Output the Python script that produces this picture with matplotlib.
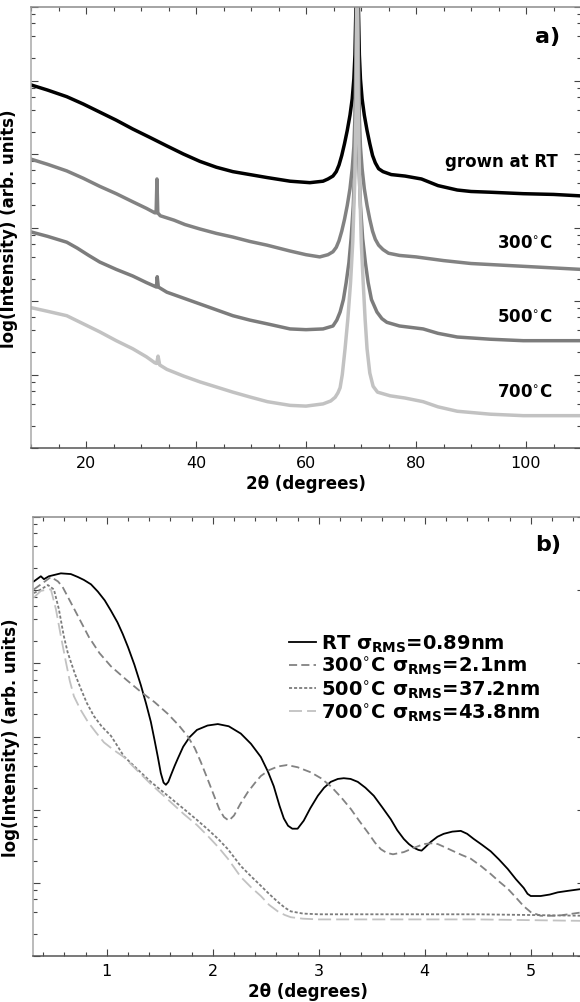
import matplotlib

matplotlib.use("Agg")
import matplotlib.pyplot as plt
from matplotlib.ticker import LogLocator, MultipleLocator, NullFormatter
import numpy as np

plt.rcParams["font.family"] = ["DejaVu Sans"]
plt.rcParams["mathtext.fontset"] = "dejavusans"

# ---- panel a: XRD scans, 2theta in degrees, log10 intensity (arb.) ----
xrd_rt_tt = [10, 13, 16.5, 19.5, 22.5, 25.5, 28.5, 31.5, 34.7, 37.7, 40.7, 43.7, 46.7,
             49.8, 52.9, 57.1, 60.7, 63.1, 64.0, 64.9, 65.5, 66.0, 66.5, 67.0, 67.5,
             68.0, 68.4, 68.7, 68.9, 69.05, 69.2, 69.3, 69.4, 69.55, 69.7, 69.9, 70.2,
             70.6, 71.1, 71.6, 72.1, 72.6, 73.2, 74.0, 75.5, 78.0, 81.0, 84.0, 87.5,
             90.0, 93.5, 99.5, 105, 110]
xrd_rt_logI = [4.94, 4.87, 4.78, 4.68, 4.57, 4.46, 4.34, 4.23, 4.11, 4.00, 3.90, 3.82, 3.76,
               3.72, 3.68, 3.63, 3.61, 3.63, 3.66, 3.70, 3.76, 3.85, 3.98, 4.14, 4.32,
               4.53, 4.75, 5.02, 5.35, 5.90, 6.60, 7.00, 6.60, 5.90, 5.35, 5.02, 4.75,
               4.53, 4.32, 4.14, 3.98, 3.88, 3.80, 3.76, 3.72, 3.70, 3.66, 3.57, 3.51,
               3.49, 3.48, 3.46, 3.45, 3.43]

xrd_300_tt = [10, 13, 16.5, 19.5, 22.5, 25.5, 28.5, 31.0, 32.5, 32.75, 32.9, 33.05, 33.5,
              36.0, 38.0, 40.7, 43.7, 46.7, 49.8, 52.9, 55.0, 57.1, 60.0, 62.5, 64.0,
              64.9, 65.5, 66.0, 66.5, 67.0, 67.5, 68.0, 68.4, 68.7, 68.9, 69.05, 69.2,
              69.3, 69.4, 69.55, 69.7, 69.9, 70.2, 70.6, 71.1, 71.6, 72.1, 72.6, 73.2,
              74.0, 75.0, 77.0, 80, 85, 90, 95, 100, 105, 110]
xrd_300_logI = [3.93, 3.86, 3.77, 3.67, 3.56, 3.46, 3.35, 3.26, 3.20, 3.20, 3.66, 3.20, 3.16,
                3.10, 3.04, 2.98, 2.92, 2.87, 2.81, 2.76, 2.72, 2.68, 2.63, 2.60, 2.63,
                2.67, 2.73, 2.82, 2.95, 3.11, 3.30, 3.53, 3.80, 4.10, 4.50, 5.20, 6.20,
                6.80, 6.20, 5.20, 4.50, 4.10, 3.80, 3.53, 3.30, 3.11, 2.95, 2.84, 2.76,
                2.70, 2.65, 2.62, 2.60, 2.55, 2.51, 2.49, 2.47, 2.45, 2.43]

xrd_500_tt = [10, 13, 16.5, 18.4, 20.5, 22.5, 25.5, 28.5, 31.0, 32.5, 32.8, 32.95, 33.15,
              34.7, 37.7, 40.7, 43.7, 46.7, 49.8, 52.9, 57.1, 60.0, 63.1, 64.9, 65.6,
              66.2, 66.8, 67.3, 67.8, 68.2, 68.6, 68.9, 69.1, 69.25, 69.4, 69.6, 69.9,
              70.3, 70.8, 71.3, 71.9, 72.9, 73.8, 74.7, 77.0, 81.3, 84.0, 87.5, 93.5,
              99.5, 110]
xrd_500_logI = [2.94, 2.88, 2.80, 2.72, 2.62, 2.53, 2.43, 2.34, 2.25, 2.20, 2.19, 2.33, 2.19,
                2.12, 2.04, 1.96, 1.88, 1.80, 1.74, 1.69, 1.62, 1.61, 1.62, 1.66, 1.74,
                1.85, 2.02, 2.25, 2.52, 2.85, 3.30, 3.90, 4.80, 6.60, 4.80, 3.90, 3.30,
                2.85, 2.52, 2.25, 2.02, 1.85, 1.76, 1.71, 1.66, 1.62, 1.56, 1.51, 1.48,
                1.46, 1.46]

xrd_700_tt = [10, 13, 16.5, 19.5, 22.5, 25.5, 28.5, 31.0, 32.5, 32.85, 33.1, 33.4, 34.7,
              37.7, 40.7, 43.7, 46.7, 50.0, 53.0, 57.1, 60.0, 63.1, 64.5, 65.3, 65.8,
              66.2, 66.6, 67.1, 67.6, 68.1, 68.5, 68.85, 69.1, 69.3, 69.5, 69.75, 70.05,
              70.4, 70.75, 71.1, 71.6, 72.2, 73.0, 75.3, 78.0, 81.3, 84.0, 87.5, 93.5,
              99.5, 110]
xrd_700_logI = [1.91, 1.86, 1.80, 1.69, 1.58, 1.46, 1.35, 1.24, 1.16, 1.15, 1.25, 1.13, 1.07,
                0.98, 0.90, 0.83, 0.76, 0.69, 0.63, 0.58, 0.57, 0.60, 0.64, 0.69, 0.75,
                0.82, 1.00, 1.35, 1.75, 2.25, 2.80, 3.60, 4.60, 6.50, 4.60, 3.60, 2.80,
                2.25, 1.75, 1.35, 1.02, 0.84, 0.76, 0.71, 0.68, 0.63, 0.56, 0.50, 0.46,
                0.44, 0.44]

xrd_labels = ["grown at RT", "300$^{\\circ}$C", "500$^{\\circ}$C", "700$^{\\circ}$C"]

# ---- panel b: XRR scans ----
xrr_rt_tt = [0.311, 0.377, 0.406, 0.453, 0.566, 0.66, 0.726, 0.783, 0.85, 0.915, 0.98,
             1.038, 1.10, 1.15, 1.20, 1.26, 1.321, 1.37, 1.415, 1.45, 1.481, 1.509, 1.535,
             1.557, 1.58, 1.604, 1.64, 1.670, 1.72, 1.78, 1.85, 1.95, 2.047, 2.15, 2.264,
             2.36, 2.453, 2.52, 2.575, 2.63, 2.67, 2.71, 2.75, 2.80, 2.858, 2.92, 2.991,
             3.05, 3.113, 3.18, 3.236, 3.30, 3.368, 3.44, 3.519, 3.60, 3.679, 3.74, 3.802,
             3.85, 3.896, 3.94, 3.97, 4.00, 4.057, 4.12, 4.179, 4.26, 4.34, 4.40, 4.462,
             4.54, 4.623, 4.70, 4.783, 4.86, 4.934, 4.97, 5.0, 5.094, 5.18, 5.255, 5.349,
             5.5]
xrr_rt_logI = [5.12, 5.19, 5.15, 5.19, 5.23, 5.22, 5.18, 5.14, 5.08, 4.98, 4.86,
               4.72, 4.56, 4.40, 4.22, 3.98, 3.70, 3.45, 3.20, 2.95, 2.72, 2.50, 2.37,
               2.34, 2.38, 2.47, 2.60, 2.70, 2.86, 2.99, 3.09, 3.15, 3.17, 3.14, 3.04,
               2.90, 2.72, 2.52, 2.32, 2.05, 1.88, 1.78, 1.74, 1.74, 1.85, 2.02, 2.19,
               2.30, 2.38, 2.42, 2.43, 2.42, 2.38, 2.30, 2.19, 2.03, 1.87, 1.72, 1.60,
               1.53, 1.48, 1.45, 1.44, 1.48, 1.56, 1.63, 1.67, 1.70, 1.71, 1.67, 1.60,
               1.52, 1.43, 1.32, 1.19, 1.05, 0.93, 0.85, 0.82, 0.82, 0.84, 0.87, 0.89,
               0.92]

xrr_300_tt = [0.311, 0.349, 0.472, 0.538, 0.58, 0.70, 0.83, 0.93, 1.038, 1.18, 1.321,
              1.45, 1.575, 1.68, 1.764, 1.83, 1.887, 1.95, 2.009, 2.06, 2.104, 2.151, 2.20,
              2.26, 2.330, 2.40, 2.453, 2.53, 2.613, 2.70, 2.80, 2.925, 3.02, 3.113, 3.21,
              3.302, 3.38, 3.462, 3.53, 3.585, 3.64, 3.70, 3.802, 3.90, 3.991, 4.06, 4.123,
              4.20, 4.274, 4.35, 4.434, 4.53, 4.623, 4.70, 4.783, 4.86, 4.934, 5.0, 5.094,
              5.255, 5.5]
xrr_300_logI = [5.01, 5.05, 5.18, 5.12, 5.05, 4.72, 4.36, 4.14, 3.96, 3.78, 3.61,
                3.47, 3.31, 3.15, 3.00, 2.84, 2.65, 2.42, 2.20, 2.01, 1.90, 1.85, 1.92,
                2.08, 2.24, 2.37, 2.46, 2.54, 2.59, 2.61, 2.58, 2.51, 2.43, 2.32, 2.17,
                2.01, 1.85, 1.69, 1.55, 1.46, 1.41, 1.39, 1.42, 1.48, 1.53, 1.54, 1.53,
                1.48, 1.43, 1.38, 1.33, 1.23, 1.12, 1.02, 0.92, 0.80, 0.68, 0.60, 0.55,
                0.55, 0.60]

xrr_500_tt = [0.311, 0.377, 0.443, 0.500, 0.547, 0.594, 0.63, 0.660, 0.70, 0.755, 0.81,
              0.877, 0.95, 1.038, 1.10, 1.160, 1.29, 1.415, 1.575, 1.726, 1.85, 1.953,
              2.05, 2.142, 2.264, 2.36, 2.453, 2.53, 2.613, 2.68, 2.736, 2.85, 3.0, 3.5,
              4.0, 4.5, 5.0, 5.5]
xrr_500_logI = [4.96, 5.01, 5.07, 5.01, 4.74, 4.37, 4.15, 4.02, 3.85, 3.65, 3.46,
                3.28, 3.14, 3.01, 2.87, 2.73, 2.55, 2.38, 2.19, 2.01, 1.86, 1.73,
                1.60, 1.46, 1.23, 1.09, 0.96, 0.85, 0.74, 0.66, 0.61, 0.58, 0.57, 0.57,
                0.57, 0.57, 0.56, 0.55]

xrr_700_tt = [0.311, 0.377, 0.443, 0.472, 0.519, 0.566, 0.613, 0.65, 0.689, 0.75, 0.821,
              0.90, 0.972, 1.06, 1.160, 1.29, 1.415, 1.575, 1.726, 1.85, 1.953, 2.05,
              2.142, 2.264, 2.36, 2.453, 2.53, 2.613, 2.68, 2.736, 2.85, 3.0, 3.5, 4.0,
              4.5, 5.0, 5.5]
xrr_700_logI = [4.90, 4.99, 5.01, 5.01, 4.74, 4.37, 4.02, 3.76, 3.55, 3.37, 3.20,
                3.05, 2.92, 2.82, 2.72, 2.53, 2.35, 2.14, 1.94, 1.79, 1.64, 1.49,
                1.33, 1.08, 0.94, 0.82, 0.70, 0.61, 0.56, 0.53, 0.51, 0.50, 0.50, 0.50,
                0.50, 0.49, 0.48]

xrr_labels = [
    "RT σ$_{\\mathbf{RMS}}$=0.89nm",
    "300$^{\\circ}$C σ$_{\\mathbf{RMS}}$=2.1nm",
    "500$^{\\circ}$C σ$_{\\mathbf{RMS}}$=37.2nm",
    "700$^{\\circ}$C σ$_{\\mathbf{RMS}}$=43.8nm",
]

colors = ["#000000", "#828282", "#7c7c7c", "#c2c2c2"]
dash_styles = ["-", (0, (4.5, 2.3)), (0, (1.7, 1.1)), (0, (7.2, 2.8))]


def style_axes(ax, xmajor, xminor):
    ax.set_yscale("log")
    ax.set_ylim(1, 1e6)
    ax.yaxis.set_major_locator(LogLocator(base=10, numticks=20))
    ax.yaxis.set_minor_locator(LogLocator(base=10, subs=(2, 4, 6, 8), numticks=20))
    ax.yaxis.set_major_formatter(NullFormatter())
    ax.yaxis.set_minor_formatter(NullFormatter())
    ax.xaxis.set_major_locator(MultipleLocator(xmajor))
    ax.xaxis.set_minor_locator(MultipleLocator(xminor))
    ax.tick_params(which="both", direction="in", top=True, right=True,
                   colors="#444444", width=0.8, labelcolor="black", labelsize=11.5)
    ax.tick_params(which="major", length=5, pad=5)
    ax.tick_params(which="minor", length=3)
    ax.spines["left"].set_color("#a8a8a8")
    ax.spines["right"].set_color("#a8a8a8")
    ax.spines["top"].set_color("#8c8c8c")
    ax.spines["bottom"].set_color("#555555")
    for sp in ax.spines.values():
        sp.set_linewidth(1.1)
    ax.set_xlabel("2θ (degrees)", fontsize=12, fontweight="bold", labelpad=3)
    ax.set_ylabel("log(Intensity) (arb. units)", fontsize=12, fontweight="bold", labelpad=4)


fig = plt.figure(figsize=(5.8, 10.03), dpi=100)

# panel a
ax_a = fig.add_axes([31 / 580, 1 - 449 / 1003, 550 / 580, 441 / 1003])
xrd_sets = [(xrd_rt_tt, xrd_rt_logI), (xrd_300_tt, xrd_300_logI),
            (xrd_500_tt, xrd_500_logI), (xrd_700_tt, xrd_700_logI)]
for (tt, li), c in zip(xrd_sets, colors):
    ax_a.plot(tt, 10 ** np.asarray(li), color=c, lw=2.5, solid_joinstyle="round")
ax_a.set_xlim(10, 110)
style_axes(ax_a, 20, 5)

label_pos = [(0.958, 0.651), (0.949, 0.467), (0.949, 0.299), (0.948, 0.129)]
for txt, (xf, yf) in zip(xrd_labels, label_pos):
    ax_a.text(xf, yf, txt, transform=ax_a.transAxes, ha="right", va="center",
              fontsize=12, fontweight="bold")
ax_a.text(0.94, 0.934, "a)", transform=ax_a.transAxes, ha="center", va="center",
          fontsize=16, fontweight="bold")

# panel b
ax_b = fig.add_axes([32.7 / 580, 1 - 957 / 1003, 551 / 580, 439 / 1003])
xrr_sets = [(xrr_rt_tt, xrr_rt_logI), (xrr_300_tt, xrr_300_logI),
            (xrr_500_tt, xrr_500_logI), (xrr_700_tt, xrr_700_logI)]
for (tt, li), c, ls, lab in zip(xrr_sets, colors, dash_styles, xrr_labels):
    ax_b.plot(tt, 10 ** np.asarray(li), color=c, lw=1.3, linestyle=ls, label=lab)
ax_b.set_xlim(0.3, 5.5)
style_axes(ax_b, 1, 0.2)
ax_b.text(0.935, 0.938, "b)", transform=ax_b.transAxes, ha="center", va="center",
          fontsize=16, fontweight="bold")
leg = ax_b.legend(loc="upper left", bbox_to_anchor=(0.465, 0.737), frameon=False,
                  borderpad=0, borderaxespad=0, handlelength=1.4, handletextpad=0.25,
                  labelspacing=0.05, prop={"size": 14, "weight": "bold"})

fig.savefig("out.png", dpi=100)
